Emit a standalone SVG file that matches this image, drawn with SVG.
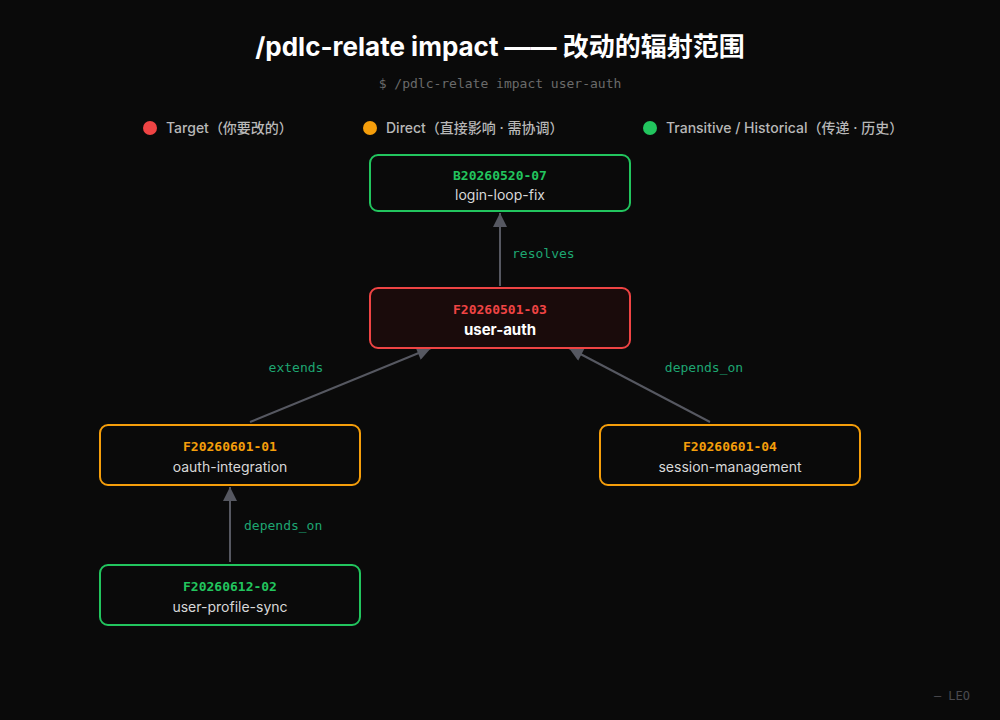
<svg xmlns="http://www.w3.org/2000/svg" width="1000" height="720" viewBox="0 0 1000 720">
<defs>
<marker id="arr" viewBox="0 0 10 10" refX="10" refY="5" markerWidth="15" markerHeight="14" markerUnits="userSpaceOnUse" orient="auto">
<path d="M0,0 L10,5 L0,10 z" fill="#565861"/>
</marker>
<style>
.title{font-family:Inter,"Noto Sans","Noto Sans CJK SC",sans-serif;font-size:26px;font-weight:700;fill:#ffffff}
.sub{font-family:"DejaVu Sans Mono","Liberation Mono",monospace;font-size:13px;fill:#6b6b6b}
.leg{font-family:Inter,"Noto Sans CJK SC",sans-serif;font-size:14px;font-weight:500;fill:#b8b8b8}
.box{stroke-width:2}
.id{font-family:"DejaVu Sans Mono","Liberation Mono",monospace;font-size:13px;font-weight:700;text-anchor:middle}
.nm{font-family:Inter,"Noto Sans",sans-serif;font-size:14px;fill:#d8d8d8;text-anchor:middle}
.edge{stroke:#565861;stroke-width:2;fill:none}
.lbl{font-family:"DejaVu Sans Mono","Liberation Mono",monospace;font-size:13px;fill:#1ea672}
.foot{font-family:"DejaVu Sans Mono","Liberation Mono",monospace;font-size:12px;fill:#4a4a4f}
</style>
</defs>
<rect width="1000" height="720" fill="#0a0a0a"/>
<text class="title" x="500" y="56" text-anchor="middle">/pdlc-relate impact —— 改动的辐射范围</text>
<text class="sub" x="500" y="88" text-anchor="middle">$ /pdlc-relate impact user-auth</text>
<g id="legend">
<circle cx="150" cy="128" r="7" fill="#ef4444"/>
<text class="leg" x="166" y="133">Target（你要改的）</text>
<circle cx="370" cy="128" r="7" fill="#f59e0b"/>
<text class="leg" x="386" y="133">Direct（直接影响 · 需协调）</text>
<circle cx="650" cy="128" r="7" fill="#22c55e"/>
<text class="leg" x="666" y="133">Transitive / Historical（传递 · 历史）</text>
</g>
<g id="connectors">
<line class="edge" x1="500" y1="286" x2="500" y2="213" marker-end="url(#arr)"/>
<text class="lbl" x="512" y="258">resolves</text>
<line class="edge" x1="250" y1="422" x2="431" y2="348" marker-end="url(#arr)"/>
<text class="lbl" x="296" y="372" text-anchor="middle">extends</text>
<line class="edge" x1="710" y1="422" x2="569" y2="348" marker-end="url(#arr)"/>
<text class="lbl" x="704" y="372" text-anchor="middle">depends_on</text>
<line class="edge" x1="230" y1="562" x2="230" y2="487" marker-end="url(#arr)"/>
<text class="lbl" x="244" y="530">depends_on</text>
</g>
<g id="node-B20260520-07">
<rect class="box" x="370" y="155" width="260" height="56" rx="8" fill="#0a0a0a" stroke="#22c55e"/>
<text class="id" x="500" y="180" fill="#22c55e">B20260520-07</text>
<text class="nm" x="500" y="200">login-loop-fix</text>
</g>
<g id="node-F20260501-03">
<rect class="box" x="370" y="288" width="260" height="60" rx="8" fill="#1a0b0b" stroke="#ef4444"/>
<text class="id" x="500" y="314" fill="#ef4444">F20260501-03</text>
<text class="nm" x="500" y="335" style="font-weight:700;font-size:15px;fill:#ffffff">user-auth</text>
</g>
<g id="node-F20260601-01">
<rect class="box" x="100" y="425" width="260" height="60" rx="8" fill="#0a0a0a" stroke="#f59e0b"/>
<text class="id" x="230" y="451" fill="#f59e0b">F20260601-01</text>
<text class="nm" x="230" y="472">oauth-integration</text>
</g>
<g id="node-F20260601-04">
<rect class="box" x="600" y="425" width="260" height="60" rx="8" fill="#0a0a0a" stroke="#f59e0b"/>
<text class="id" x="730" y="451" fill="#f59e0b">F20260601-04</text>
<text class="nm" x="730" y="472">session-management</text>
</g>
<g id="node-F20260612-02">
<rect class="box" x="100" y="565" width="260" height="60" rx="8" fill="#0a0a0a" stroke="#22c55e"/>
<text class="id" x="230" y="591" fill="#22c55e">F20260612-02</text>
<text class="nm" x="230" y="612">user-profile-sync</text>
</g>
<text class="foot" x="970" y="700" text-anchor="end">— LEO</text>
</svg>
